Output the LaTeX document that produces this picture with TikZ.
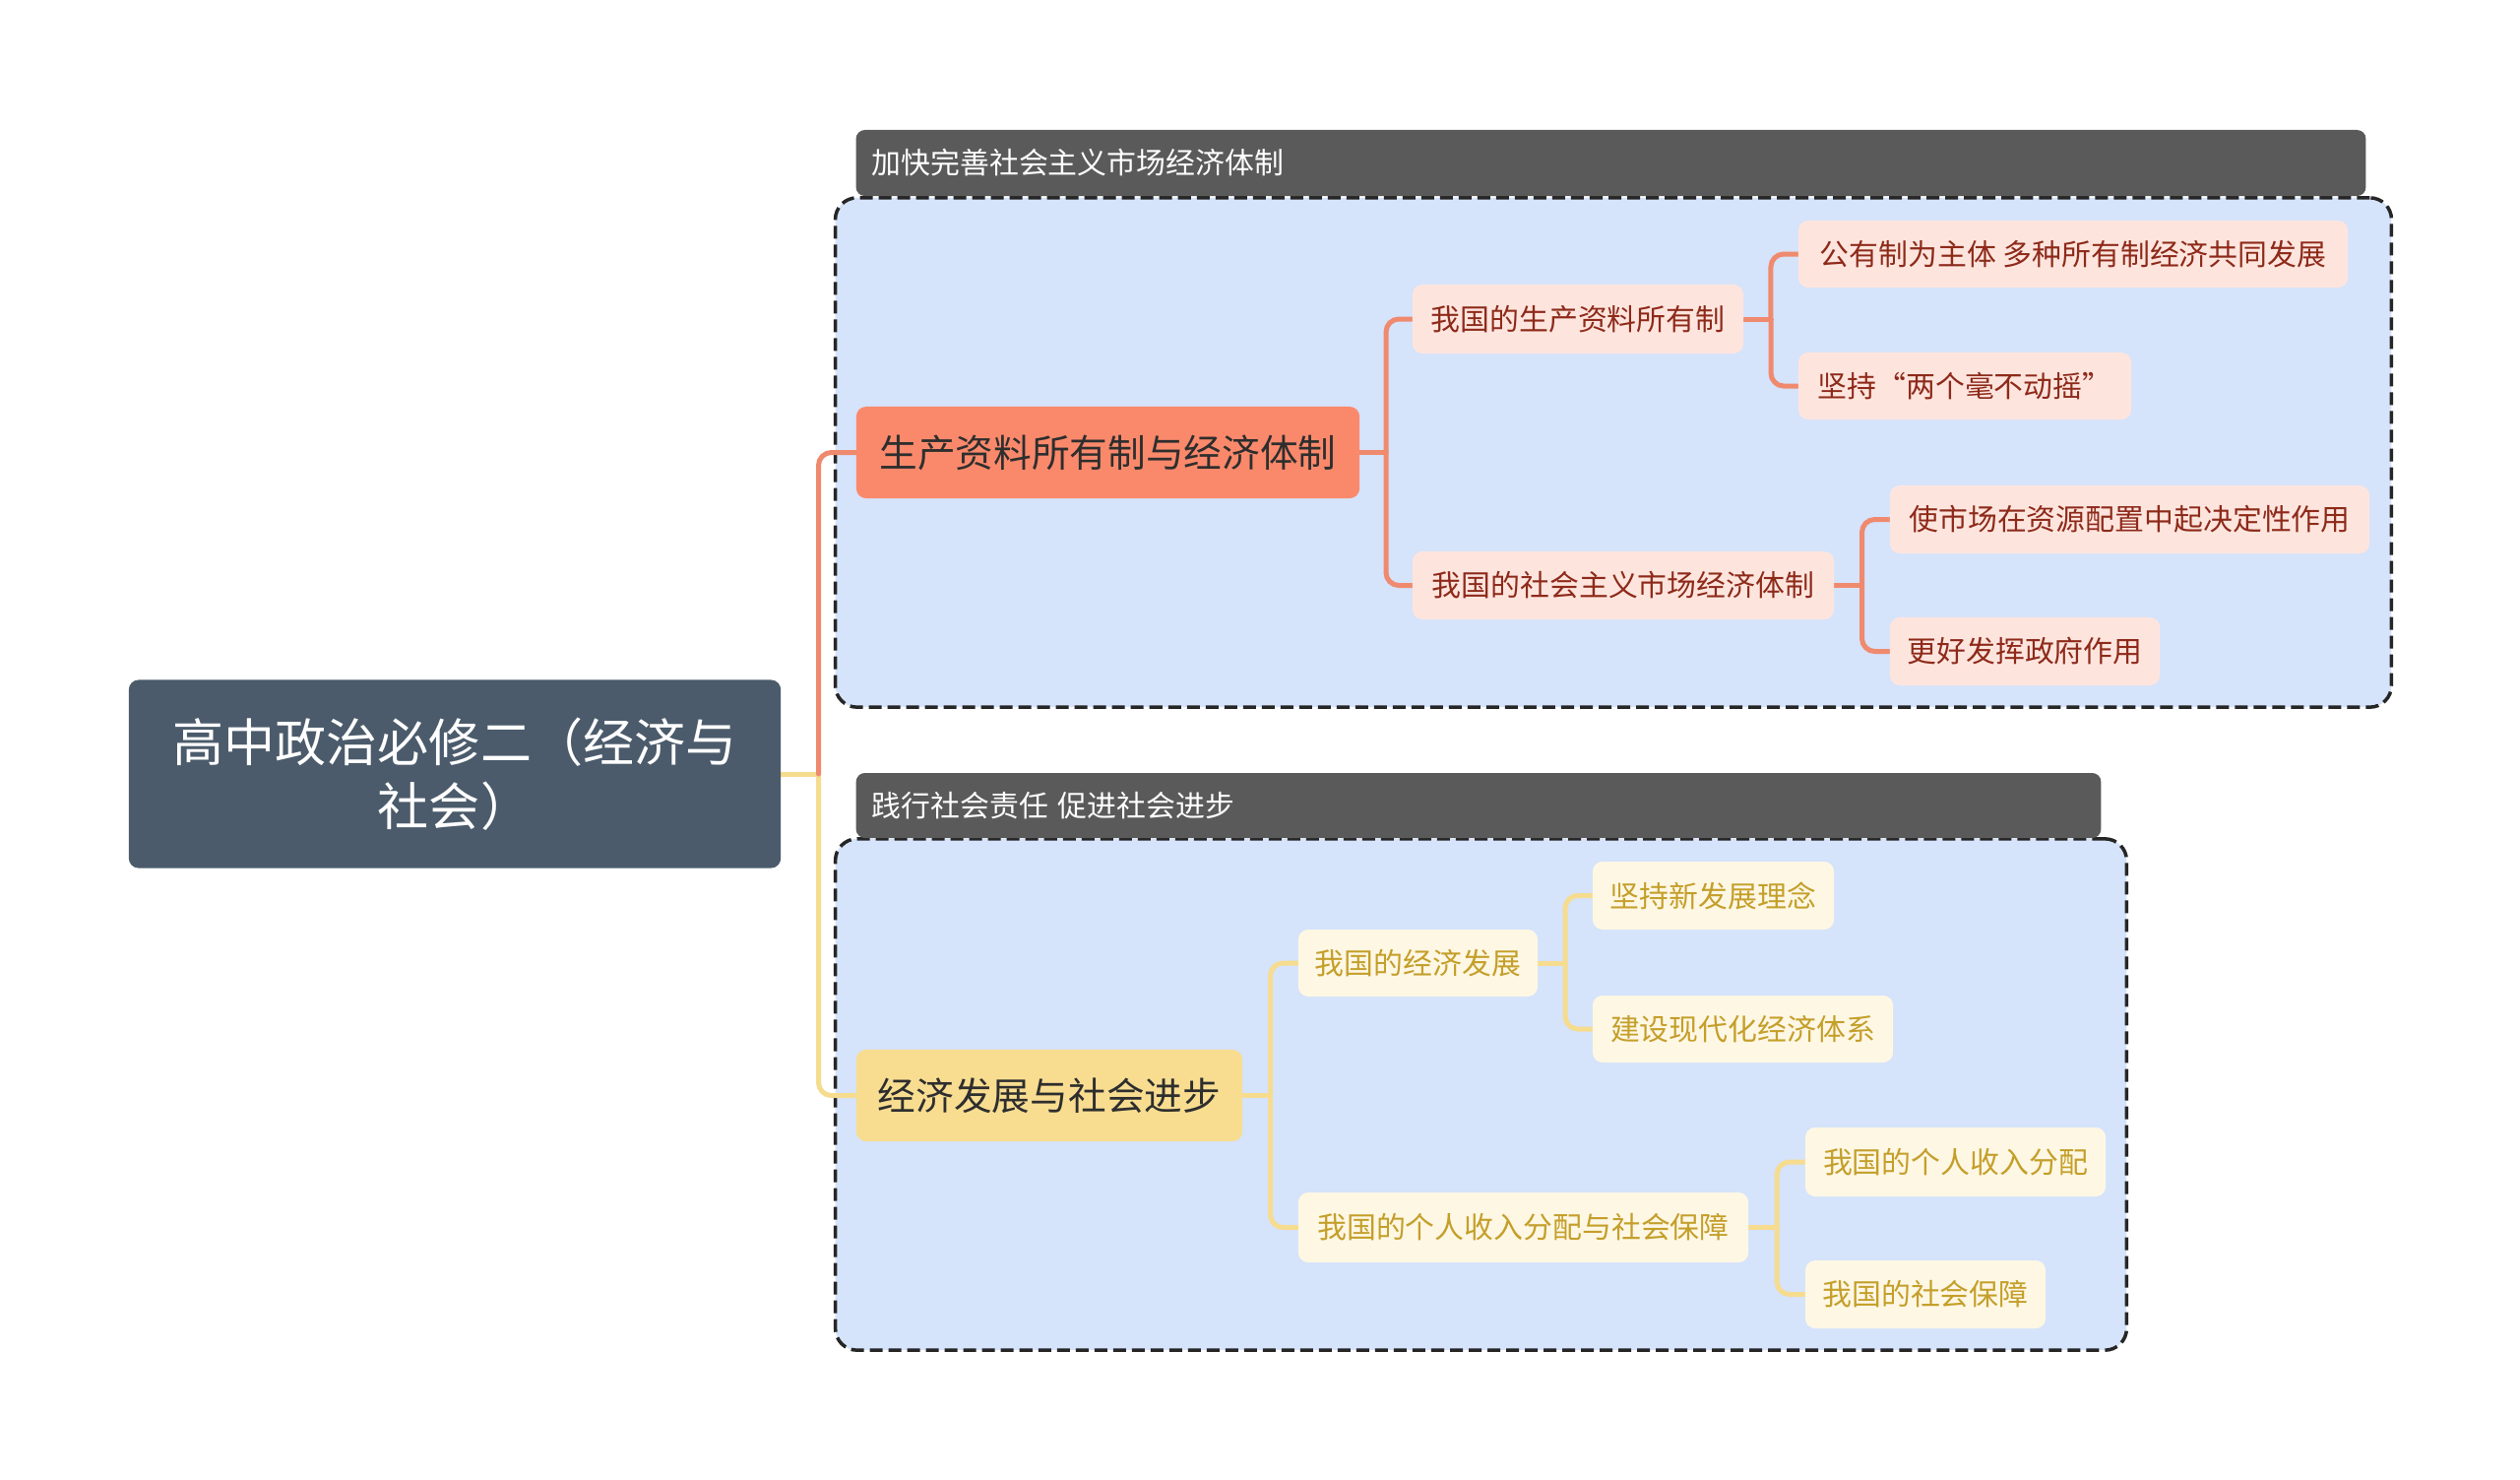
\documentclass[tikz,border=0pt]{standalone}
\usepackage{fontspec}
\setmainfont{Noto Sans CJK SC}
\usetikzlibrary{calc}
\definecolor{rootfill}{HTML}{4B5B6B}
\definecolor{hdrfill}{HTML}{5A5A5A}
\definecolor{grpfill}{HTML}{D5E3FB}
\definecolor{orangeline}{HTML}{F08A6E}
\definecolor{yellowline}{HTML}{F6DC8F}
\definecolor{bonefill}{HTML}{FA896B}
\definecolor{btwofill}{HTML}{F8DD91}
\definecolor{pinkfill}{HTML}{FDE5DE}
\definecolor{pinktext}{HTML}{8E2A1A}
\definecolor{creamfill}{HTML}{FEF7E4}
\definecolor{creamtext}{HTML}{C49F2A}
\definecolor{darktext}{HTML}{2E2E2E}
\pgfdeclarelayer{bgzero}
\pgfdeclarelayer{bgone}
\pgfsetlayers{bgzero,bgone,main}
\newcommand\myconn[3]{%
  \draw[#1] (#2.east) -- ($(#2.east)!.5!(#2.east -| #3.west)$);
  \draw[#1, rounded corners=0.13cm] ($(#2.east)!.5!(#2.east -| #3.west)$) |- (#3.west);}
\begin{document}
\begin{tikzpicture}[x=0.01cm,y=-0.01cm,
  every node/.style={inner sep=0pt, outer sep=0pt},
  rootbox/.style={fill=rootfill, rounded corners=0.1cm, text=white, align=center,
    font=\fontsize{14.8pt}{18.5pt}\selectfont},
  hdrbox/.style={fill=hdrfill, rounded corners=0.09cm, text=white, align=left,
    inner xsep=0.16cm, font=\fontsize{8.5pt}{10pt}\selectfont},
  grpbox/.style={fill=grpfill, draw=black!85, line width=0.035cm, dash pattern=on 0.13cm off 0.06cm,
    rounded corners=0.22cm},
  bonebox/.style={fill=bonefill, rounded corners=0.1cm, text=darktext,
    font=\fontsize{11pt}{13pt}\selectfont},
  btwobox/.style={fill=btwofill, rounded corners=0.1cm, text=darktext,
    font=\fontsize{11pt}{13pt}\selectfont},
  pinkbox/.style={fill=pinkfill, rounded corners=0.1cm, text=pinktext,
    font=\fontsize{8.5pt}{10pt}\selectfont},
  creambox/.style={fill=creamfill, rounded corners=0.1cm, text=creamtext,
    font=\fontsize{8.5pt}{10pt}\selectfont},
  oline/.style={draw=orangeline, line width=0.05cm, line cap=round},
  yline/.style={draw=yellowline, line width=0.05cm, line cap=round}
]
\useasboundingbox (0,0) rectangle (2560,1502);

% group frames and headers
\begin{pgfonlayer}{bgzero}
\fill[white] (0,0) rectangle (2560,1502);
\node[grpbox, minimum width=15.80cm, minimum height=5.17cm] (g1) at (1639,459.5) {};
\node[hdrbox, minimum height=0.67cm, text width=15.01cm] (h1) at (1636.5,165.5) {加快完善社会主义市场经济体制};
\node[grpbox, minimum width=13.11cm, minimum height=5.19cm] (g2) at (1504.5,1111.5) {};
\node[hdrbox, minimum height=0.66cm, text width=12.32cm] (h2) at (1502,818) {践行社会责任 促进社会进步};
\end{pgfonlayer}

% root
\node[rootbox, minimum width=6.62cm, minimum height=1.91cm] (root) at (462,786) {高中政治必修二（经济与\\社会）};

% branch 1
\node[bonebox, minimum width=5.11cm, minimum height=0.93cm] (b1) at (1125.5,459.5) {生产资料所有制与经济体制};
\node[pinkbox, minimum width=3.36cm, minimum height=0.70cm] (s11) at (1603,324) {我国的生产资料所有制};
\node[pinkbox, minimum width=4.28cm, minimum height=0.69cm] (s12) at (1649,594.5) {我国的社会主义市场经济体制};
\node[pinkbox, minimum width=5.58cm, minimum height=0.68cm] (l111) at (2106,258) {公有制为主体 多种所有制经济共同发展};
\node[pinkbox, minimum width=3.38cm, minimum height=0.68cm] (l112) at (1996,392) {坚持“两个毫不动摇”};
\node[pinkbox, minimum width=4.87cm, minimum height=0.69cm] (l121) at (2163.5,527.5) {使市场在资源配置中起决定性作用};
\node[pinkbox, minimum width=2.74cm, minimum height=0.69cm] (l122) at (2057,661.5) {更好发挥政府作用};

% branch 2
\node[btwobox, minimum width=3.92cm, minimum height=0.93cm] (b2) at (1066,1112.5) {经济发展与社会进步};
\node[creambox, minimum width=2.43cm, minimum height=0.68cm] (s21) at (1440.5,978) {我国的经济发展};
\node[creambox, minimum width=4.57cm, minimum height=0.71cm] (s22) at (1547.5,1246.5) {我国的个人收入分配与社会保障};
\node[creambox, minimum width=2.45cm, minimum height=0.69cm] (l211) at (1740.5,909.5) {坚持新发展理念};
\node[creambox, minimum width=3.05cm, minimum height=0.68cm] (l212) at (1770.5,1045) {建设现代化经济体系};
\node[creambox, minimum width=3.05cm, minimum height=0.70cm] (l221) at (1986.5,1180) {我国的个人收入分配};
\node[creambox, minimum width=2.44cm, minimum height=0.69cm] (l222) at (1956,1314.5) {我国的社会保障};

% connectors
\begin{pgfonlayer}{bgone}
\myconn{yline}{root}{b2}
\draw[oline, rounded corners=0.13cm] ($(root.east)!.5!(root.east -| b1.west)$) |- (b1.west);
\myconn{oline}{b1}{s11}
\myconn{oline}{b1}{s12}
\myconn{oline}{s11}{l111}
\myconn{oline}{s11}{l112}
\myconn{oline}{s12}{l121}
\myconn{oline}{s12}{l122}
\myconn{yline}{b2}{s21}
\myconn{yline}{b2}{s22}
\myconn{yline}{s21}{l211}
\myconn{yline}{s21}{l212}
\myconn{yline}{s22}{l221}
\myconn{yline}{s22}{l222}
\end{pgfonlayer}
\end{tikzpicture}
\end{document}
